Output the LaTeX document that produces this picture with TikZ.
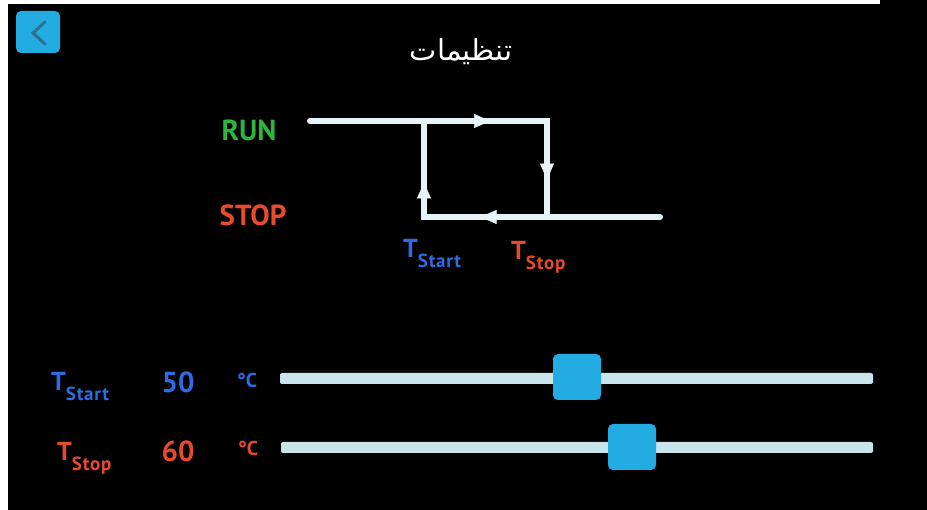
\documentclass[tikz,border=0pt]{standalone}
\usepackage{fontspec}
\setmainfont{PT Sans}
\newfontfamily\arabicfont[Script=Arabic]{DejaVu Sans}
\TeXXeTstate=1
\usetikzlibrary{arrows.meta,decorations.markings}
\definecolor{cyanui}{HTML}{22ACE2}
\definecolor{chev}{HTML}{2F6F8E}
\definecolor{rungreen}{HTML}{2EB53C}
\definecolor{stopred}{HTML}{E84A2E}
\definecolor{startblue}{HTML}{2F6BE3}
\definecolor{loopcol}{HTML}{E6F3F7}
\definecolor{trackcol}{HTML}{C8E3EB}
\newcommand{\tsub}[3]{{\fontsize{#2}{#2}\selectfont\bfseries T}\raisebox{-10pt}{\fontsize{#3}{#3}\selectfont\bfseries\addfontfeatures{LetterSpace=4} #1}}
\tikzset{
  lbl/.style={inner sep=0pt, font=\bfseries},
  loopline/.style={draw=loopcol, line width=6pt, line join=miter},
  tip/.style={postaction={decorate}, decoration={markings, mark=at position #1 with {\arrow[loopcol]{Triangle[length=16pt,width=14pt]}}}},
  track/.style={fill=trackcol, rounded corners=2pt},
  thumb/.style={fill=cyanui, rounded corners=5pt, minimum width=48pt, minimum height=46pt, inner sep=0pt},
}
\begin{document}
\begin{tikzpicture}[x=1pt,y=-1pt]
\useasboundingbox (0,0) rectangle (927,510);
\fill[black] (0,0) rectangle (927,510);
\fill[white] (0,0) rectangle (8,510);
\fill[white] (0,0) rectangle (880,4);
% back button
\node[fill=cyanui, rounded corners=5pt, minimum width=44pt, minimum height=42pt, inner sep=0pt] (back) at (38,32) {};
\coordinate (c1) at (45,22);
\coordinate (c2) at (33,33);
\coordinate (c3) at (45,44);
\draw[chev, line width=3pt, line cap=round, line join=miter] (c1) -- (c2) -- (c3);
% title
\node[text=white, font=\arabicfont\fontsize{29}{29}\selectfont, inner sep=0pt] (title) at (461,52) {\beginR تنظيمات\endR};
% RUN / STOP
\node[lbl, text=rungreen, font=\bfseries\fontsize{29}{29}\selectfont] (run) at (249,130) {RUN};
\node[lbl, text=stopred, font=\bfseries\fontsize{29}{29}\selectfont] (stop) at (253,215) {STOP};
% hysteresis loop
\fill[black] (424,121) rectangle (547,217);
\coordinate (s) at (310,121);
\coordinate (tl) at (424,121);
\coordinate (tr) at (547,121);
\coordinate (br) at (547,217);
\coordinate (bl) at (424,217);
\coordinate (e) at (660,217);
\draw[loopline, line cap=round] (s) -- (tr) -- (br) -- (e);
\draw[loopline] (br) -- (bl) -- (tl) -- (tr);
\path[tip=0.76] (s) -- (tr);
\path[tip=0.61] (tr) -- (br);
\path[tip=0.54] (br) -- (bl);
\path[tip=0.36] (bl) -- (tl);
% loop labels
\node[lbl, text=startblue, anchor=base west] (ts1) at (403,258) {\tsub{Start}{26}{19}};
\node[lbl, text=stopred, anchor=base west] (tp1) at (511,260) {\tsub{Stop}{26}{19}};
% slider rows
\node[lbl, text=startblue, anchor=base west] (ts2) at (51,391) {\tsub{Start}{26}{19}};
\node[lbl, text=startblue, font=\bfseries\fontsize{29}{29}\selectfont] (v1) at (178,382) {50};
\node[lbl, text=startblue, font=\bfseries\fontsize{20}{20}\selectfont] (u1) at (247,381) {°C};
\fill[track] (280,373) rectangle (873,384);
\node[thumb] (th1) at (577,377) {};
\node[lbl, text=stopred, anchor=base west] (tp2) at (57,461) {\tsub{Stop}{26}{19}};
\node[lbl, text=stopred, font=\bfseries\fontsize{29}{29}\selectfont] (v2) at (178,451) {60};
\node[lbl, text=stopred, font=\bfseries\fontsize{20}{20}\selectfont] (u2) at (248,449) {°C};
\fill[track] (281,442) rectangle (873,453);
\node[thumb] (th2) at (632,447) {};
\end{tikzpicture}
\end{document}
